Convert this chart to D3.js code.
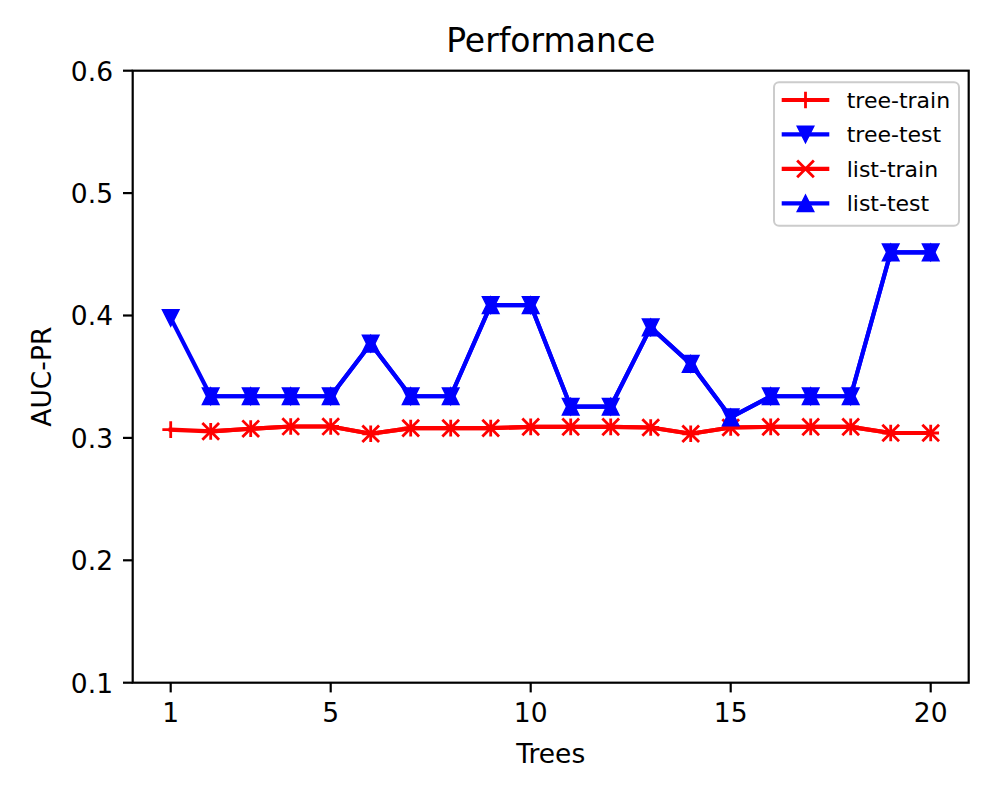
<!DOCTYPE html>
<html>
<head>
<meta charset="utf-8">
<script src="https://cdn.jsdelivr.net/npm/d3@7"></script>
<style>
  body { margin: 0; background: #fff; }
  svg text { font-family: "DejaVu Sans", sans-serif; fill: #000; }
</style>
</head>
<body>
<svg id="chart" width="1000" height="800"></svg>
<script>
// ---- data ----
const treeX = [1,2,3,4,5,6,7,8,9,10,11,12,13,14,15,16,17,18,19,20];
const listX = [2,3,4,5,6,7,8,9,10,11,12,13,14,15,16,17,18,19,20];
const treeTrain = [0.3067,0.3053,0.3075,0.3093,0.3093,0.3034,0.308,0.308,0.308,0.309,0.309,0.309,0.3085,0.3034,0.3085,0.309,0.309,0.309,0.304,0.304];
const treeTest  = [0.398,0.334,0.334,0.334,0.334,0.377,0.334,0.334,0.4085,0.4085,0.3255,0.3255,0.3903,0.3605,0.3168,0.334,0.334,0.334,0.4516,0.4516];
const listTrain = [0.3053,0.3075,0.3093,0.3093,0.3034,0.308,0.308,0.308,0.309,0.309,0.309,0.3085,0.3034,0.3085,0.309,0.309,0.309,0.304,0.304];
const listTest  = [0.334,0.334,0.334,0.334,0.377,0.334,0.334,0.4085,0.4085,0.3255,0.3255,0.3903,0.3605,0.3168,0.334,0.334,0.334,0.4516,0.4516];
const xTicks = [1,5,10,15,20];
const yTicks = [0.1,0.2,0.3,0.4,0.5,0.6];
const seriesNames = ["tree-train","tree-test","list-train","list-test"];

// ---- layout ----
const L = 132.7, R = 968.7, T = 70.7, B = 682.7;
const svg = d3.select("#chart");
const x = d3.scaleLinear().domain([0.05, 20.95]).range([L, R]);
const y = d3.scaleLinear().domain([0.1, 0.6]).range([B, T]);

const RED = "#ff0000", BLUE = "#0000ff";
const ms = 16.7, mew = 2.8, lw = 4.17;

function marker(g, type, color) {
  const h = ms / 2;
  if (type === "+") {
    g.append("path").attr("d", `M${-h},0H${h}M0,${-h}V${h}`)
      .attr("stroke", color).attr("stroke-width", mew).attr("fill", "none");
  } else if (type === "x") {
    g.append("path").attr("d", `M${-h},${-h}L${h},${h}M${-h},${h}L${h},${-h}`)
      .attr("stroke", color).attr("stroke-width", mew).attr("fill", "none");
  } else if (type === "v") {
    g.append("path").attr("d", `M0,${h}L${-h},${-h}L${h},${-h}Z`)
      .attr("stroke", color).attr("stroke-width", mew * 0.5).attr("fill", color).attr("stroke-linejoin", "miter");
  } else if (type === "^") {
    g.append("path").attr("d", `M0,${-h}L${-h},${h}L${h},${h}Z`)
      .attr("stroke", color).attr("stroke-width", mew * 0.5).attr("fill", color).attr("stroke-linejoin", "miter");
  }
}

const series = [
  { name: seriesNames[0], xs: treeX, ys: treeTrain, color: RED,  m: "+" },
  { name: seriesNames[1], xs: treeX, ys: treeTest,  color: BLUE, m: "v" },
  { name: seriesNames[2], xs: listX, ys: listTrain, color: RED,  m: "x" },
  { name: seriesNames[3], xs: listX, ys: listTest,  color: BLUE, m: "^" },
];

const line = d3.line().x(d => x(d[0])).y(d => y(d[1]));
const plot = svg.append("g");
series.forEach(s => {
  const pts = s.xs.map((xv, i) => [xv, s.ys[i]]);
  plot.append("path").datum(pts).attr("d", line)
    .attr("fill", "none").attr("stroke", s.color).attr("stroke-width", lw)
    .attr("stroke-linejoin", "round").attr("stroke-linecap", "square");
  pts.forEach(p => {
    const g = plot.append("g").attr("transform", `translate(${x(p[0])},${y(p[1])})`);
    marker(g, s.m, s.color);
  });
});

// ---- axes frame ----
svg.append("rect").attr("x", L).attr("y", T).attr("width", R - L).attr("height", B - T)
  .attr("fill", "none").attr("stroke", "#000").attr("stroke-width", 2.2);

const tickLen = 9.7, fs = 26.5;
const xAxis = svg.append("g");
xTicks.forEach(t => {
  xAxis.append("line").attr("x1", x(t)).attr("x2", x(t)).attr("y1", B).attr("y2", B + tickLen)
    .attr("stroke", "#000").attr("stroke-width", 2.2);
  xAxis.append("text").attr("x", x(t)).attr("y", B + tickLen + 9.7 + 20)
    .attr("text-anchor", "middle").attr("font-size", fs).text(d3.format("d")(t));
});
const yAxis = svg.append("g");
yTicks.forEach(t => {
  yAxis.append("line").attr("x1", L - tickLen).attr("x2", L).attr("y1", y(t)).attr("y2", y(t))
    .attr("stroke", "#000").attr("stroke-width", 2.2);
  yAxis.append("text").attr("x", L - tickLen - 10).attr("y", y(t) + 9.8)
    .attr("text-anchor", "end").attr("font-size", fs).text(d3.format(".1f")(t));
});

// ---- labels ----
svg.append("text").attr("x", (L + R) / 2).attr("y", 52).attr("text-anchor", "middle")
  .attr("font-size", 33).text("Performance");
svg.append("text").attr("x", (L + R) / 2).attr("y", 763).attr("text-anchor", "middle")
  .attr("font-size", fs).text("Trees");
svg.append("text").attr("transform", `translate(51,${(T + B) / 2}) rotate(-90)`)
  .attr("text-anchor", "middle").attr("font-size", fs).text("AUC-PR");

// ---- legend ----
const lg = svg.append("g");
lg.append("rect").attr("x", 774).attr("y", 82.3).attr("width", 185).attr("height", 143.4)
  .attr("rx", 5).attr("fill", "#fff").attr("fill-opacity", 0.8)
  .attr("stroke", "#cccccc").attr("stroke-width", 2);
const rowY = d3.scaleLinear().domain([0, 3]).range([100, 203.3]);
series.forEach((s, i) => {
  const yy = rowY(i);
  lg.append("line").attr("x1", 781.7).attr("x2", 829.3).attr("y1", yy).attr("y2", yy)
    .attr("stroke", s.color).attr("stroke-width", lw);
  const g = lg.append("g").attr("transform", `translate(805.5,${yy})`);
  marker(g, s.m, s.color);
  lg.append("text").attr("x", 846.7).attr("y", yy + 8).attr("font-size", 22).text(s.name);
});
</script>
</body>
</html>
